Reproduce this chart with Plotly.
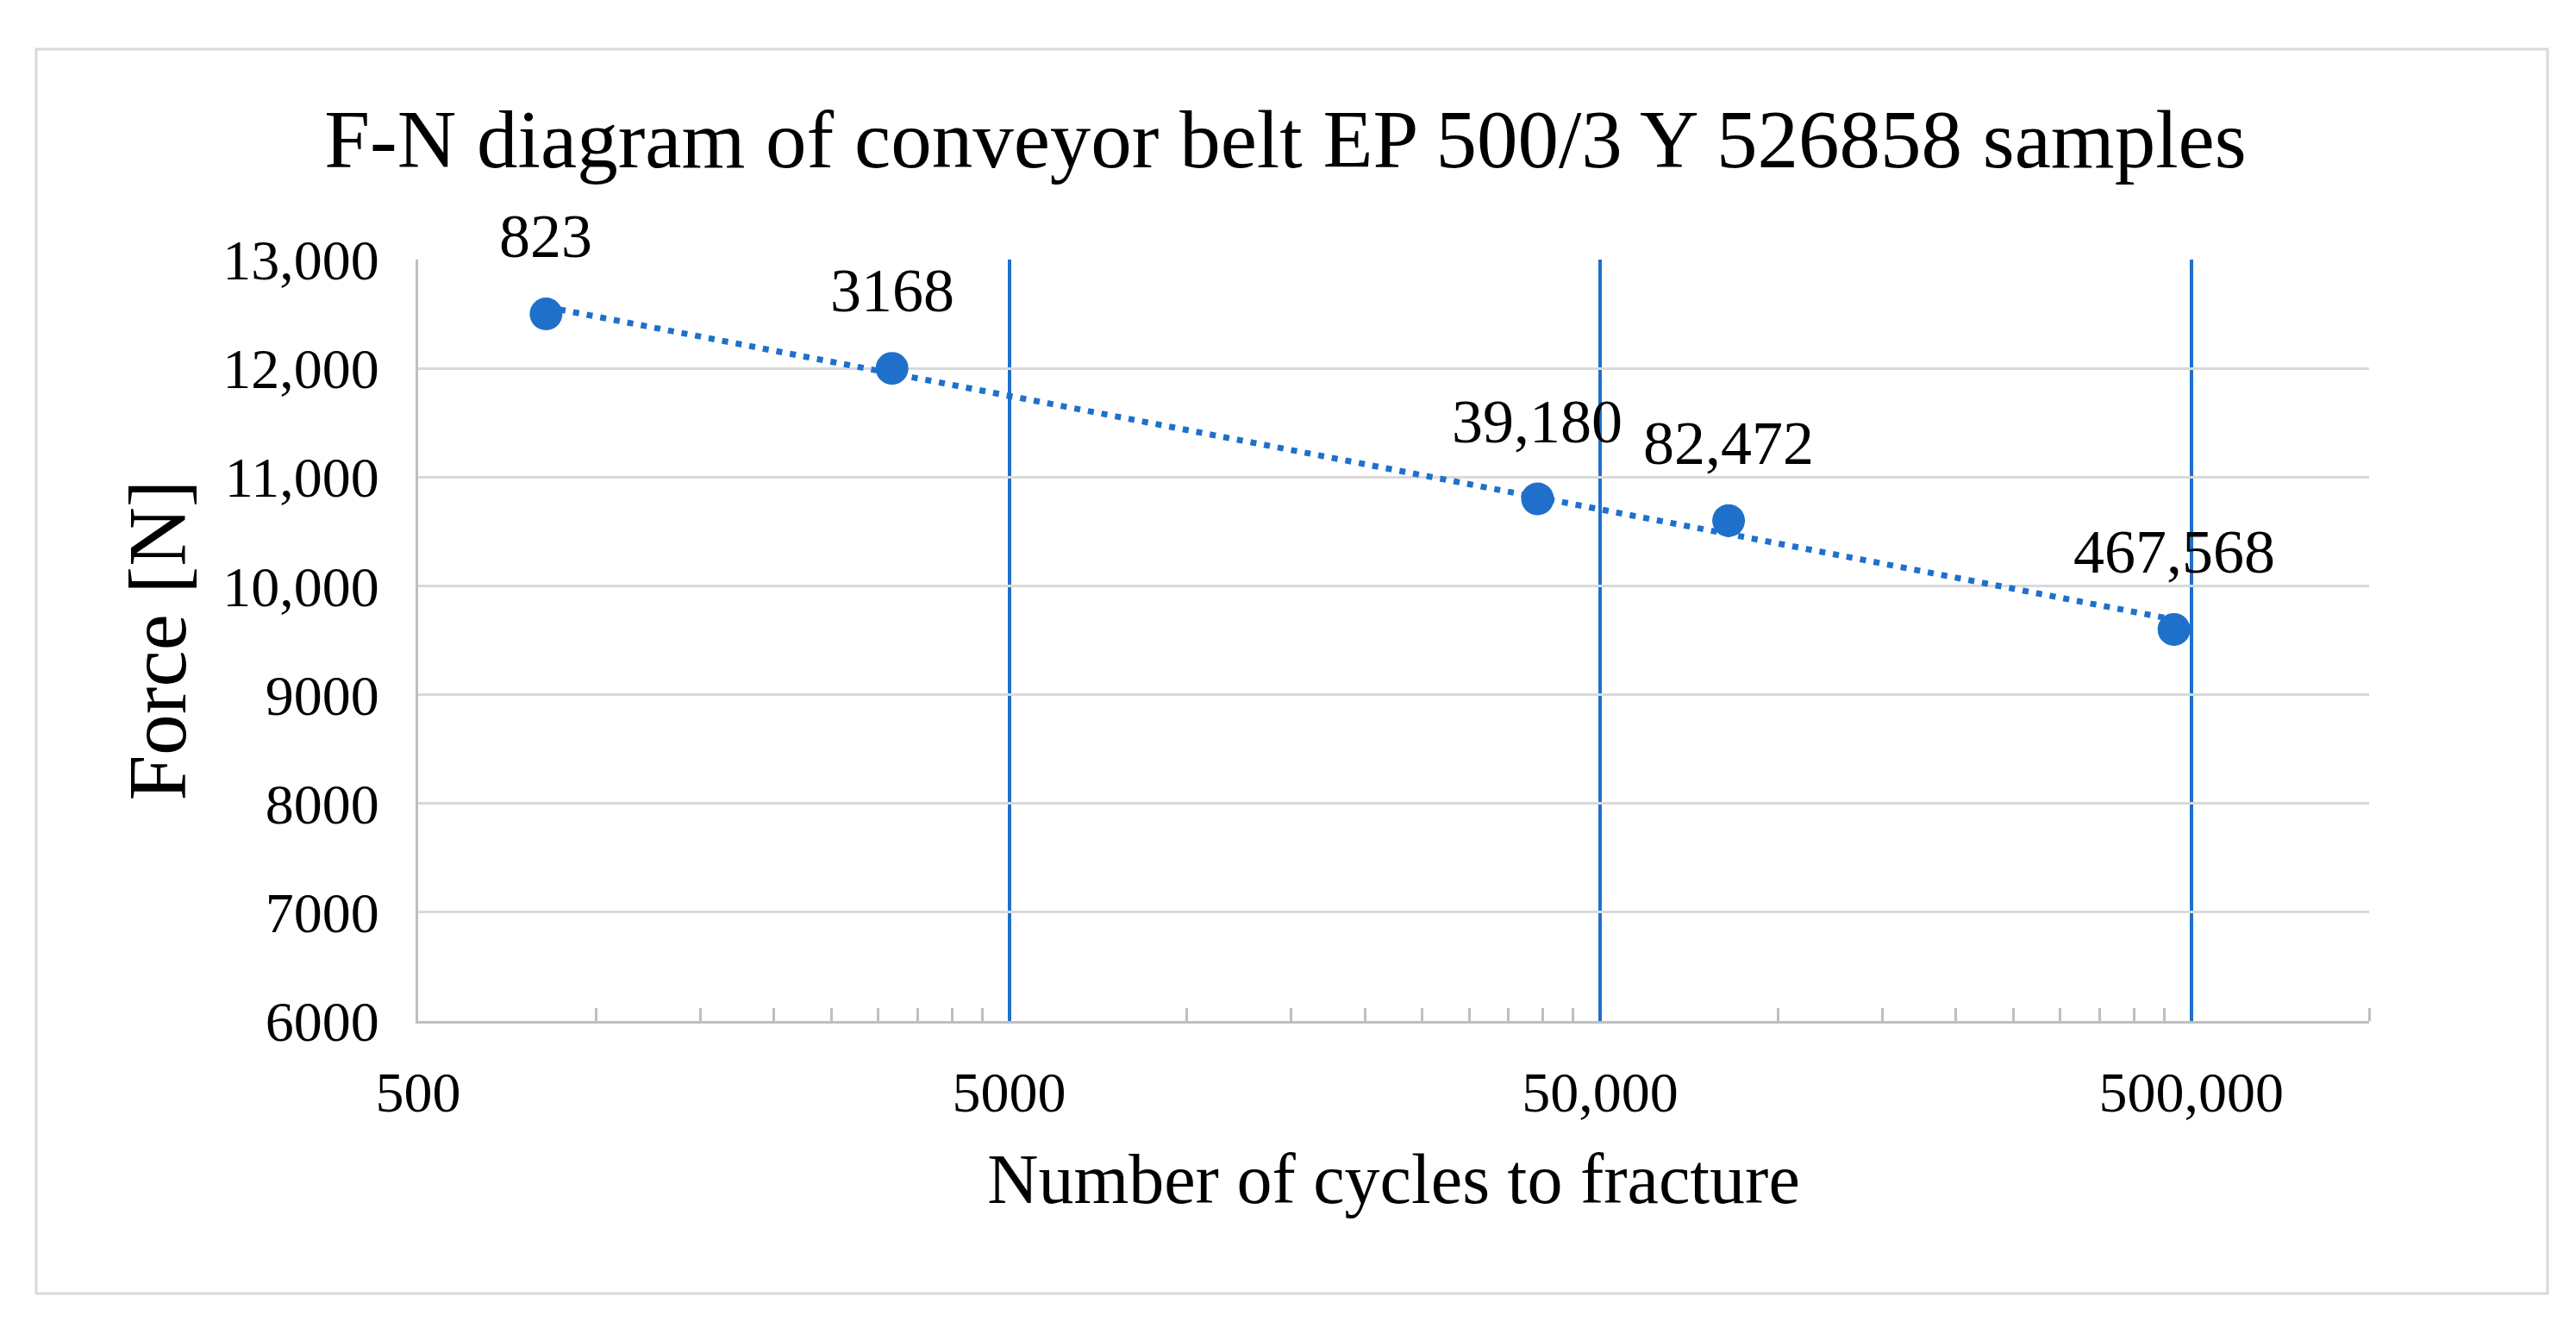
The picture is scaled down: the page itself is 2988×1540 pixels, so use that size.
import numpy as np
import plotly.graph_objects as go

# ---- data ----
cycles = [823, 3168, 39180, 82472, 467568]
force = [12500, 12000, 10800, 10600, 9600]
point_labels = ["823", "3168", "39,180", "82,472", "467,568"]

x_tickvals = [500, 5000, 50000, 500000]
x_ticktext = ["500", "5000", "50,000", "500,000"]
x_minor = ([1000, 1500, 2000, 2500, 3000, 3500, 4000, 4500]
           + [10000, 15000, 20000, 25000, 30000, 35000, 40000, 45000]
           + [100000, 150000, 200000, 250000, 300000, 350000, 400000, 450000, 1000000])
y_tickvals = [6000, 7000, 8000, 9000, 10000, 11000, 12000, 13000]
y_ticktext = ["6000", "7000", "8000", "9000", "10,000", "11,000", "12,000", "13,000"]

BLUE = "#1F70CB"
GRID = "#D9D9D9"
AXIS = "#BFBFBF"
FONT = "Liberation Serif"

# logarithmic trendline (least squares on ln N), as in the original spreadsheet
a, b = np.polyfit(np.log(cycles), force, 1)
n_fit = np.geomspace(min(cycles), max(cycles), 200)
f_fit = a * np.log(n_fit) + b

fig = go.Figure()
fig.add_trace(go.Scatter(
    x=n_fit, y=f_fit, mode="lines",
    line=dict(color=BLUE, width=7, dash="7px,9px"),
    hoverinfo="skip", showlegend=False,
))
fig.add_trace(go.Scatter(
    x=cycles, y=force, mode="markers",
    marker=dict(color=BLUE, size=38),
    showlegend=False,
))

for n, f, lab in zip(cycles, force, point_labels):
    fig.add_annotation(
        x=np.log10(n), y=f, xref="x", yref="y", text=lab, showarrow=False,
        yanchor="bottom", xanchor="center", yshift=48,
        font=dict(family=FONT, size=72, color="black"),
    )

# page offset compensation (browser body margin)
OFF = 8
L, R, T, B = 485 - OFF, 2748 - OFF, 301 - OFF, 1184 - OFF

# outer chart frame
W, H = R - L, B - T
fig.add_shape(
    type="rect", xref="paper", yref="paper",
    x0=(42 - OFF - L) / W, x1=(2955 - OFF - L) / W,
    y0=(B - (1500 - OFF)) / H, y1=(B - (57 - OFF)) / H,
    line=dict(color=GRID, width=3), fillcolor="rgba(0,0,0,0)", layer="below",
)

fig.update_layout(
    width=2988, height=1540,
    margin=dict(l=L, r=2988 - R, t=T, b=1540 - B),
    paper_bgcolor="white", plot_bgcolor="white",
    title=dict(
        text="F-N diagram of conveyor belt EP 500/3 Y 526858 samples",
        x=(1491 - OFF) / 2988, xref="container", xanchor="center",
        y=1 - (161 - OFF) / 1540, yref="container", yanchor="middle",
        font=dict(family=FONT, size=95, color="black"),
    ),
    font=dict(family=FONT, color="black"),
)

fig.update_xaxes(
    type="log", range=[np.log10(500), np.log10(1000000)],
    tickmode="array", tickvals=x_tickvals, ticktext=x_ticktext,
    tickfont=dict(family=FONT, size=66, color="black"),
    ticks="", ticklabelstandoff=23,
    showgrid=True, gridcolor=BLUE, gridwidth=4,
    showline=True, linecolor=AXIS, linewidth=3,
    zeroline=False,
    minor=dict(tickmode="array", tickvals=x_minor, ticks="inside",
               ticklen=15, tickwidth=3, tickcolor=AXIS, showgrid=False),
    title=dict(text="Number of cycles to fracture",
               font=dict(family=FONT, size=82, color="black"), standoff=36),
)
fig.update_yaxes(
    range=[6000, 13000],
    tickmode="array", tickvals=y_tickvals, ticktext=y_ticktext,
    tickfont=dict(family=FONT, size=66, color="black"),
    ticks="", ticklabelstandoff=29,
    showgrid=True, gridcolor=GRID, gridwidth=3,
    showline=True, linecolor=AXIS, linewidth=3,
    zeroline=False,
    title=dict(text="Force [N]",
               font=dict(family=FONT, size=95, color="black"), standoff=12),
)

fig.write_html("out.html")
